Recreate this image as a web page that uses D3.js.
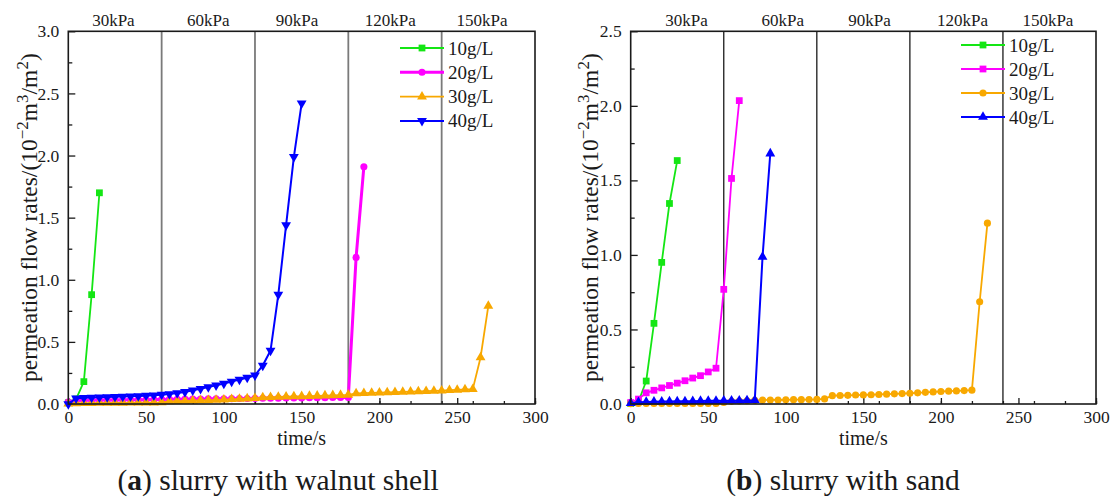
<!DOCTYPE html>
<html>
<head>
<meta charset="utf-8">
<script src="https://cdn.jsdelivr.net/npm/d3@7"></script>
<style>
  body { margin: 0; background: #fff; }
  svg { display: block; }
  text { font-family: "Liberation Serif", "Times New Roman", serif; fill: #1a1a1a; }
</style>
</head>
<body>
<svg id="chart" width="1114" height="498"></svg>
<script>
// ---- shared labels ----
const seriesLabels = ["10g/L", "20g/L", "30g/L", "40g/L"];
const pressureLabels = ["30kPa", "60kPa", "90kPa", "120kPa", "150kPa"];
const stageBounds = [60, 120, 180, 240];
const pressureLabelTimesA = [29, 90, 147, 207, 266];
const pressureLabelTimesB = [36, 98, 154, 214, 269];
const xTicksMajor = [0, 50, 100, 150, 200, 250, 300];

// ---- (a) slurry with walnut shell ----
const walnutTime10 = [0, 5, 10, 15, 20];
const walnutRate10 = [0.01, 0.04, 0.18, 0.88, 1.70];

const walnutTime20 = [0, 5, 10, 15, 20, 25, 30, 35, 40, 45, 50, 55, 60, 65, 70, 75, 80, 85, 90, 95,
  100, 105, 110, 115, 120, 125, 130, 135, 140, 145, 150, 155, 160, 165, 170, 175, 180, 185, 190];
const walnutRate20 = [0.015, 0.028, 0.030, 0.031, 0.032, 0.033, 0.033, 0.034, 0.034, 0.035, 0.035, 0.036,
  0.037, 0.038, 0.038, 0.039, 0.040, 0.040, 0.041, 0.042, 0.042, 0.043, 0.044, 0.044, 0.045, 0.046, 0.046,
  0.047, 0.048, 0.048, 0.049, 0.050, 0.050, 0.051, 0.052, 0.052, 0.053, 1.18, 1.91];

const walnutTime30 = [0, 5, 10, 15, 20, 25, 30, 35, 40, 45, 50, 55, 60, 65, 70, 75, 80, 85, 90, 95,
  100, 105, 110, 115, 120, 125, 130, 135, 140, 145, 150, 155, 160, 165, 170, 175, 180, 185, 190, 195,
  200, 205, 210, 215, 220, 225, 230, 235, 240, 245, 250, 255, 260, 265, 270];
const walnutRate30 = [0.002, 0.005, 0.006, 0.007, 0.008, 0.008, 0.009, 0.009, 0.010, 0.010, 0.011, 0.011,
  0.012, 0.020, 0.022, 0.024, 0.026, 0.028, 0.030, 0.032, 0.035, 0.038, 0.041, 0.044, 0.047, 0.053, 0.055,
  0.057, 0.059, 0.061, 0.062, 0.064, 0.066, 0.068, 0.070, 0.072, 0.074, 0.086, 0.088, 0.090, 0.092, 0.094,
  0.096, 0.098, 0.100, 0.102, 0.104, 0.106, 0.108, 0.111, 0.114, 0.117, 0.120, 0.375, 0.79];

const walnutTime40 = [0, 5, 10, 15, 20, 25, 30, 35, 40, 45, 50, 55, 60, 65, 70, 75, 80, 85, 90, 95,
  100, 105, 110, 115, 120, 125, 130, 135, 140, 145, 150];
const walnutRate40 = [0.000, 0.046, 0.050, 0.052, 0.054, 0.056, 0.058, 0.060, 0.062, 0.064, 0.067, 0.070,
  0.075, 0.080, 0.088, 0.097, 0.110, 0.123, 0.137, 0.150, 0.164, 0.180, 0.196, 0.212, 0.230, 0.31, 0.43,
  0.88, 1.44, 1.99, 2.42];

// ---- (b) slurry with sand ----
const sandTime10 = [0, 5, 10, 15, 20, 25, 30];
const sandRate10 = [0.003, 0.015, 0.154, 0.541, 0.95, 1.345, 1.633];

const sandTime20 = [0, 5, 10, 15, 20, 25, 30, 35, 40, 45, 50, 55, 60, 65, 70];
const sandRate20 = [0.010, 0.033, 0.075, 0.092, 0.108, 0.124, 0.140, 0.156, 0.174, 0.190, 0.215, 0.240,
  0.769, 1.513, 2.035];

const sandTime30 = [0, 5, 10, 15, 20, 25, 30, 35, 40, 45, 50, 55, 60, 65, 70, 75, 80, 85, 90, 95,
  100, 105, 110, 115, 120, 125, 130, 135, 140, 145, 150, 155, 160, 165, 170, 175, 180, 185, 190, 195,
  200, 205, 210, 215, 220, 225, 230];
const sandRate30 = [0.002, 0.003, 0.003, 0.003, 0.003, 0.003, 0.003, 0.003, 0.003, 0.004, 0.004, 0.004,
  0.010, 0.018, 0.020, 0.022, 0.024, 0.026, 0.027, 0.027, 0.028, 0.029, 0.029, 0.030, 0.031, 0.034, 0.056,
  0.057, 0.058, 0.060, 0.061, 0.062, 0.064, 0.066, 0.068, 0.070, 0.072, 0.075, 0.078, 0.081, 0.084, 0.086,
  0.088, 0.090, 0.093, 0.686, 1.213];

const sandTime40 = [0, 5, 10, 15, 20, 25, 30, 35, 40, 45, 50, 55, 60, 65, 70, 75, 80, 85, 90];
const sandRate40 = [0.005, 0.012, 0.014, 0.015, 0.016, 0.017, 0.018, 0.018, 0.019, 0.020, 0.021, 0.021,
  0.022, 0.022, 0.023, 0.024, 0.025, 0.987, 1.68];

// ---- drawing ----
const svg = d3.select("#chart");
const zip = (ts, vs) => ts.map((t, i) => ({ t, v: vs[i] }));

const panels = [
  {
    left: 68.3, right: 535, top: 31.3, bottom: 404, yMax: 3.0,
    boundColor: "#7a7a7a", boundWidth: 1.8,
    labelTimes: pressureLabelTimesA,
    legendX: 400, legendY: 48, legendStep: 24.3,
    yLabelX: 37, captionX: 278, captionTag: "a", captionText: " slurry with walnut shell",
    series: [
      { data: zip(walnutTime10, walnutRate10), color: "#14e614", symbol: "square", width: 1.8 },
      { data: zip(walnutTime20, walnutRate20), color: "#ff00ff", symbol: "circle", width: 3 },
      { data: zip(walnutTime30, walnutRate30), color: "#f8a800", symbol: "triangleUp", width: 1.8 },
      { data: zip(walnutTime40, walnutRate40), color: "#0000ff", symbol: "triangleDown", width: 2 }
    ]
  },
  {
    left: 630.7, right: 1096, top: 31.3, bottom: 404, yMax: 2.5,
    boundColor: "#1a1a1a", boundWidth: 1.3,
    labelTimes: pressureLabelTimesB,
    legendX: 961, legendY: 45, legendStep: 24,
    yLabelX: 598, captionX: 843, captionTag: "b", captionText: " slurry with sand",
    series: [
      { data: zip(sandTime10, sandRate10), color: "#14e614", symbol: "square", width: 1.8 },
      { data: zip(sandTime20, sandRate20), color: "#ff00ff", symbol: "square", width: 1.8 },
      { data: zip(sandTime30, sandRate30), color: "#f8a800", symbol: "circle", width: 1.8 },
      { data: zip(sandTime40, sandRate40), color: "#0000ff", symbol: "triangleUp", width: 2 }
    ]
  }
];

const symbolPath = {
  square: d3.symbol().type(d3.symbolSquare).size(46)(),
  circle: d3.symbol().type(d3.symbolCircle).size(40)(),
  triangleUp: d3.symbol().type(d3.symbolTriangle).size(42)(),
  triangleDown: d3.symbol().type(d3.symbolTriangle).size(42)()
};
const symbolRotate = { square: 0, circle: 0, triangleUp: 0, triangleDown: 180 };

panels.forEach(p => {
  const g = svg.append("g");
  const x = d3.scaleLinear().domain([0, 300]).range([p.left, p.right]);
  const y = d3.scaleLinear().domain([0, p.yMax]).range([p.bottom, p.top]);

  // pressure stage boundaries
  g.selectAll(".bound").data(stageBounds).join("line")
    .attr("x1", d => x(d)).attr("x2", d => x(d))
    .attr("y1", p.top).attr("y2", p.bottom)
    .attr("stroke", p.boundColor).attr("stroke-width", p.boundWidth);

  // pressure labels above the frame
  g.selectAll(".plabel").data(pressureLabels).join("text")
    .attr("x", (d, i) => x(p.labelTimes[i])).attr("y", 26)
    .attr("text-anchor", "middle").attr("font-size", 17)
    .text(d => d);

  // bottom axis: minor and major ticks pointing inward
  g.append("g").attr("transform", `translate(0,${p.bottom})`)
    .call(d3.axisBottom(x).ticks(12).tickSize(-3).tickFormat(""))
    .call(a => a.select(".domain").remove());
  g.append("g").attr("transform", `translate(0,${p.bottom})`)
    .call(d3.axisBottom(x).tickValues(xTicksMajor).tickSize(-6).tickPadding(6.5).tickFormat(d3.format("d")))
    .call(a => a.select(".domain").remove())
    .call(a => a.selectAll("text").attr("font-size", 17.5).attr("fill", "#1a1a1a"));

  // left axis
  const yMajor = d3.range(0, p.yMax + 0.001, 0.5);
  const yMinor = d3.range(0.25, p.yMax, 0.5);
  g.append("g").attr("transform", `translate(${p.left},0)`)
    .call(d3.axisLeft(y).tickValues(yMinor).tickSize(-4).tickFormat(""))
    .call(a => a.select(".domain").remove());
  g.append("g").attr("transform", `translate(${p.left},0)`)
    .call(d3.axisLeft(y).tickValues(yMajor).tickSize(-7).tickPadding(9).tickFormat(d3.format(".1f")))
    .call(a => a.select(".domain").remove())
    .call(a => a.selectAll("text").attr("font-size", 17.5).attr("fill", "#1a1a1a"));

  g.selectAll(".tick line").attr("stroke", "#1a1a1a").attr("stroke-width", 1.3);

  // series lines and markers
  const line = d3.line().x(d => x(d.t)).y(d => y(d.v));
  p.series.forEach(s => {
    g.append("path").datum(s.data)
      .attr("d", line).attr("fill", "none")
      .attr("stroke", s.color).attr("stroke-width", s.width).attr("stroke-linejoin", "round");
    g.selectAll(null).data(s.data).join("path")
      .attr("d", symbolPath[s.symbol])
      .attr("transform", d => `translate(${x(d.t)},${y(d.v)}) rotate(${symbolRotate[s.symbol]})`)
      .attr("fill", s.color);
  });

  // frame
  g.append("rect")
    .attr("x", p.left).attr("y", p.top)
    .attr("width", p.right - p.left).attr("height", p.bottom - p.top)
    .attr("fill", "none").attr("stroke", "#1a1a1a").attr("stroke-width", 1.6);

  // legend
  const lg = g.append("g");
  p.series.forEach((s, i) => {
    const ly = p.legendY + i * p.legendStep;
    lg.append("line").attr("x1", p.legendX).attr("x2", p.legendX + 44)
      .attr("y1", ly).attr("y2", ly).attr("stroke", s.color).attr("stroke-width", s.width);
    lg.append("path").attr("d", symbolPath[s.symbol])
      .attr("transform", `translate(${p.legendX + 22},${ly}) rotate(${symbolRotate[s.symbol]})`)
      .attr("fill", s.color);
    lg.append("text").attr("x", p.legendX + 48).attr("y", ly + 6.5)
      .attr("font-size", 19).text(seriesLabels[i]);
  });

  // axis titles
  g.append("text").attr("x", (p.left + p.right) / 2).attr("y", 445)
    .attr("text-anchor", "middle").attr("font-size", 20).text("time/s");

  const yl = g.append("text")
    .attr("transform", `translate(${p.yLabelX},${(p.top + p.bottom) / 2}) rotate(-90)`)
    .attr("text-anchor", "middle").attr("font-size", 23.5);
  yl.append("tspan").text("permeation flow rates/(10");
  yl.append("tspan").attr("dy", -9).attr("font-size", 17).text("\u22122");
  yl.append("tspan").attr("dy", 9).text("m");
  yl.append("tspan").attr("dy", -9).attr("font-size", 17).text("3");
  yl.append("tspan").attr("dy", 9).text("/m");
  yl.append("tspan").attr("dy", -9).attr("font-size", 17).text("2");
  yl.append("tspan").attr("dy", 9).text(")");

  // panel caption
  const cap = g.append("text").attr("x", p.captionX).attr("y", 490)
    .attr("text-anchor", "middle").attr("font-size", 29.5);
  cap.append("tspan").text("(");
  cap.append("tspan").attr("font-weight", "bold").text(p.captionTag);
  cap.append("tspan").text(")" + p.captionText);
});
</script>
</body>
</html>
